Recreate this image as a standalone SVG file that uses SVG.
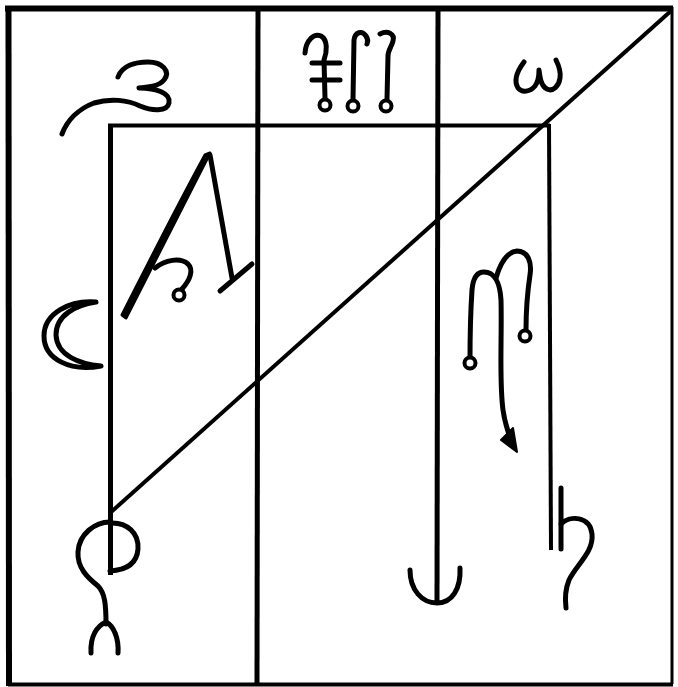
<svg xmlns="http://www.w3.org/2000/svg" width="678" height="687" viewBox="0 0 678 687">
<style>
.ln{stroke:#000;fill:none;stroke-linecap:butt}
.sy{stroke:#000;fill:none;stroke-width:5;stroke-linecap:round;stroke-linejoin:round}
.dot{stroke:#000;fill:#fff;stroke-width:4}
</style>
<rect width="678" height="687" fill="#fff"/>
<g id="frame">
<line class="ln" x1="5" y1="8.5" x2="673" y2="8.5" stroke-width="6"/>
<line class="ln" x1="8.5" y1="6" x2="9" y2="686" stroke-width="6"/>
<line class="ln" x1="672" y1="7" x2="672" y2="684" stroke-width="3"/>
<line class="ln" x1="8" y1="684.5" x2="673" y2="684.5" stroke-width="4"/>
<line class="ln" x1="258" y1="8" x2="257" y2="685" stroke-width="5"/>
<line class="ln" x1="438" y1="8" x2="437" y2="602" stroke-width="5"/>
<line class="ln" x1="108" y1="125.5" x2="550" y2="125.5" stroke-width="4"/>
<line class="ln" x1="110.5" y1="124" x2="110.5" y2="575" stroke-width="5"/>
<line class="ln" x1="549" y1="124" x2="551" y2="550" stroke-width="4"/>
<line class="ln" x1="672" y1="10" x2="110" y2="513" stroke-width="4"/>
</g>
<g id="seal-3">
<path class="sy" d="M118,77 C122,66 135,62 148,62 C162,62 171,71 164,80 C159,86 150,87 139,88 C156,88 171,93 169,103 C167,112 152,111 140,106 C128,100 110,98 94,103 C78,109 67,121 62,134" stroke-width="4"/>
</g>
<g id="glyphs-top">
<path class="sy" d="M305,53 C306,40 314,33 321,36 C328,40 327,52 324,60 L325,98" stroke-width="5"/>
<line class="sy" x1="312" y1="63" x2="340" y2="63"/>
<line class="sy" x1="312" y1="80" x2="340" y2="80"/>
<circle class="dot" cx="325" cy="105" r="5.5"/>
<path class="sy" d="M353,99 L354,40 C355,32 362,30 366,36 C368,39 368,42 367,44"/>
<circle class="dot" cx="353" cy="106" r="5.5"/>
<path class="sy" d="M380,34 C388,30 395,34 393,41 C392,46 388,50 388,56 L387,99"/>
<circle class="dot" cx="386" cy="106" r="5.5"/>
</g>
<g id="omega">
<path class="sy" d="M524,62 C518,70 513,80 518,88 C522,93 530,92 535,86 C538,82 539,76 539,70 C540,78 541,86 547,89 C553,92 559,86 560,78 C561,72 559,66 556,60"/>
</g>
<g id="seal-A">
<path d="M210,153 L126,318 L122,315 C150,260 175,210 205,155 Z" fill="#000" stroke="#000" stroke-width="3" stroke-linejoin="round"/>
<path class="sy" d="M210,155 L232,278"/>
<path class="sy" d="M220,291 L252,264"/>
<path class="sy" d="M155,268 C165,260 180,257 188,264 C194,270 190,280 182,289"/>
<circle class="dot" cx="179" cy="295" r="5.5"/>
</g>
<g id="moon">
<path class="sy" d="M96,302 C70,300 44,313 44,336 C44,359 70,372 101,366 C80,364 57,356 56,335 C56,315 76,305 96,302 Z" stroke-width="4"/>
</g>
<g id="seal-m">
<path class="sy" d="M470,360 C470,335 471,305 472,290 C473,278 477,272 484,272 C494,272 500,282 501,300 C502,340 499,380 503,410 C505,425 509,435 513,446"/>
<path d="M501,440 L517,452 L513,428 Z" fill="#000" stroke="#000" stroke-width="2" stroke-linejoin="round"/>
<path class="sy" d="M496,278 C500,264 507,252 517,251 C528,251 532,262 530,275 C527,295 526,315 526,330"/>
<circle class="dot" cx="470" cy="363" r="5.5"/>
<circle class="dot" cx="525" cy="336" r="5.5"/>
</g>
<g id="seal-bottom-left">
<path class="sy" d="M110,522 C95,522 79,534 78,552 C77,568 88,578 98,586 C105,593 106,605 106,624"/>
<path class="sy" d="M110,523 C127,522 139,533 138,549 C137,562 128,570 110,571"/>
<path class="sy" d="M91,653 C90,636 97,626 106,622 C114,626 119,639 118,653" stroke-width="6"/>
</g>
<g id="anchor">
<path class="sy" d="M410,570 C410,590 422,603 437,603 C452,603 461,589 460,568"/>
</g>
<g id="seal-h">
<line class="sy" x1="561" y1="488" x2="561" y2="549"/>
<path class="sy" d="M561,524 C570,515 590,516 592,534 C594,552 576,565 569,580 C565,590 565,600 566,608"/>
</g>
</svg>
